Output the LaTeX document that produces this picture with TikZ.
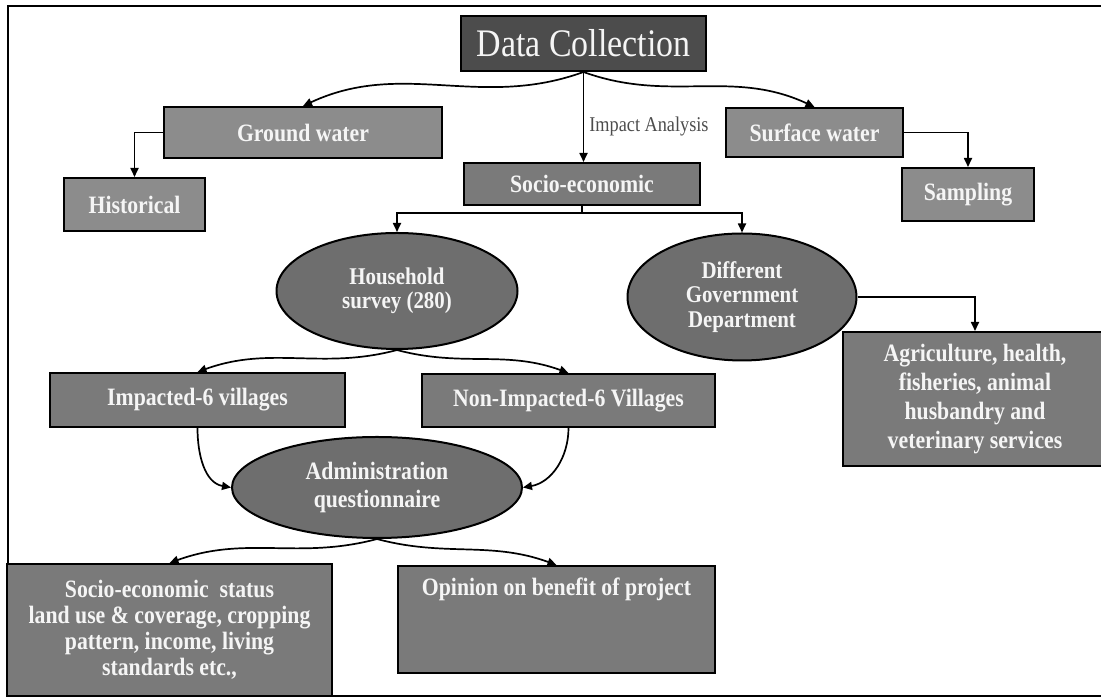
\documentclass[tikz,border=0pt]{standalone}
\usepackage{fontspec}
\setmainfont{Liberation Serif}
\newfontfamily\tallserif[FakeStretch=0.87]{Liberation Serif}
\usetikzlibrary{arrows.meta,shapes.geometric}
\definecolor{boxdark}{gray}{0.30}
\definecolor{boxlight}{gray}{0.55}
\definecolor{boxmid}{gray}{0.48}
\definecolor{ovalgray}{gray}{0.43}
\definecolor{labelwhite}{gray}{0.96}
\begin{document}
\begin{tikzpicture}[x=1pt,y=1pt,>={Triangle[length=9pt,width=8pt]},
  box/.style={draw=black,line width=2pt,fill=#1,text=labelwhite,align=center,inner sep=2pt,
    font=\tallserif\bfseries\fontsize{25}{26}\selectfont},
  oval/.style={ellipse,draw=black,line width=2pt,fill=ovalgray,text=labelwhite,align=center,inner sep=0pt,
    font=\tallserif\bfseries\fontsize{24}{24.5}\selectfont},
  conn/.style={->,line width=1.7pt}]
\useasboundingbox (0,0) rectangle (1101,698);
\draw[line width=2pt] (1101,692) -- (8,692) -- (8,2) -- (1101,2);
\node[box=boxdark,minimum width=245,minimum height=55,font=\tallserif\fontsize{39}{40}\selectfont] (dc) at (583.5,654.5) {Data Collection};
\node[box=boxlight,minimum width=278,minimum height=51] (gw) at (303,565.5) {Ground water};
\node[box=boxlight,minimum width=141,minimum height=53] (hist) at (134.5,493.5) {Historical};
\node[box=boxmid,minimum width=236,minimum height=42] (socio) at (582,514) {Socio-economic};
\node[box=boxlight,minimum width=177,minimum height=49] (sw) at (814.5,565.5) {Surface water};
\node[box=boxlight,minimum width=132,minimum height=53] (samp) at (968,503.5) {Sampling};
\node[oval,minimum width=241,minimum height=116] (hh) at (397,407) {Household\\survey (280)};
\node[oval,minimum width=229,minimum height=127] (dgd) at (742,401) {Different\\Government\\Department};
\node[box=boxmid,minimum width=264,minimum height=134,font=\tallserif\bfseries\fontsize{25}{29}\selectfont] (agri) at (975,299)
  {Agriculture, health,\\fisheries, animal\\husbandry and\\veterinary services};
\node[box=boxmid,minimum width=295,minimum height=54] (imp) at (197.5,298) {Impacted-6 villages};
\node[box=boxmid,minimum width=293,minimum height=53] (nonimp) at (568.5,297.5) {Non-Impacted-6 Villages};
\node[oval,minimum width=290,minimum height=101,font=\tallserif\bfseries\fontsize{25}{28}\selectfont] (admin) at (377,210.5)
  {Administration\\questionnaire};
\node[box=boxmid,minimum width=325,minimum height=132,font=\tallserif\bfseries\fontsize{25}{26}\selectfont] (ses) at (169.5,68)
  {Socio-economic\ \ status\\land use \& coverage, cropping\\pattern, income, living\\standards etc.,};
\node[box=boxmid,minimum width=317,minimum height=107,text height=27,text depth=74] (opin) at (556.5,78.5)
  {Opinion on benefit of project};
\draw[conn] (dc.south) to[out=200,in=25] (gw.north);
\draw[conn] (dc.south) to[out=-20,in=155] (sw.north);
\draw[conn] (dc.south) -- (dc.south |- socio.north)
  node[pos=0.61,anchor=west,inner sep=0pt,xshift=5pt,text=black!70,font=\tallserif\fontsize{21}{22}\selectfont] (ia) {Impact Analysis};
\draw[conn] (gw.west) -| (hist.north);
\draw[conn] (sw.east) -| (samp.north);
\draw[conn] (socio.south) -- ++(0,-7) -| (hh.north);
\draw[conn] (socio.south) -- ++(0,-7) -| (dgd.north);
\draw[conn] (dgd.east) -| (agri.north);
\draw[conn] (hh.south) to[out=195,in=20] (imp.north);
\draw[conn] (hh.south) to[out=-15,in=160] (nonimp.north);
\draw[conn] (imp.south) to[out=-90,in=170] (admin.west);
\draw[conn] (nonimp.south) to[out=-90,in=10] (admin.east);
\draw[conn] (admin.south) to[out=195,in=20] (ses.north);
\draw[conn] (admin.south) to[out=-15,in=160] (opin.north);
\end{tikzpicture}
\end{document}
